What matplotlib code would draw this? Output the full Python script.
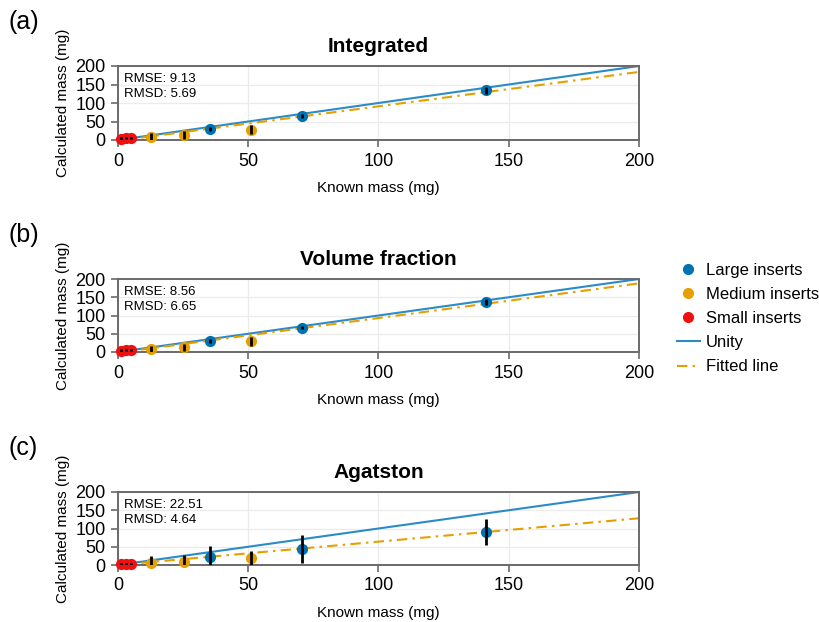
import matplotlib
matplotlib.use("Agg")
import matplotlib.pyplot as plt
import numpy as np
from matplotlib.lines import Line2D

plt.rcParams['font.family'] = ['Liberation Sans', 'DejaVu Sans']

# Known masses (mg)
known_large = [35.3, 70.7, 141.3]
known_medium = [12.7, 25.4, 50.9]
known_small = [1.0, 3.0, 5.0]

titles = ["Integrated", "Volume fraction", "Agatston"]
panel_labels = ["(a)", "(b)", "(c)"]

# Calculated masses per method
calc_large = [[30.0, 64.0, 134.0], [31.0, 66.7, 138.0], [23.0, 44.5, 91.0]]
calc_medium = [[9.0, 13.6, 28.0], [8.2, 12.8, 29.2], [5.5, 8.3, 18.5]]
calc_small = [[4.0, 5.0, 6.0], [4.0, 5.0, 6.0], [3.0, 3.0, 3.0]]

err_large = [[5.0, 5.0, 10.0], [5.0, 5.0, 8.0], [28.0, 38.0, 36.0]]
err_medium = [[10.0, 12.0, 13.0], [8.0, 10.0, 12.0], [19.0, 20.0, 20.0]]
err_small = [[3.0, 3.0, 3.0], [3.0, 3.0, 3.0], [3.0, 3.0, 3.0]]

fit_slope = [0.93, 0.95, 0.64]
fit_intercept = [-2.0, -2.0, 0.0]

rmse = ["9.13", "8.56", "22.51"]
rmsd = ["5.69", "6.65", "4.64"]

ticks = [0, 50, 100, 150, 200]

c_large = "#0072B2"
c_medium = "#E69F00"
c_small = "#EE1111"
c_unity = "#2b8bc9"

fig = plt.figure(figsize=(8.2, 6.22), dpi=100)
W, H = 820, 622
ax_left, ax_right = 118, 639
tops = [66, 279, 492]
bottoms = [140, 352, 565]

for i in range(3):
    ax = fig.add_axes([ax_left / W, 1 - bottoms[i] / H, (ax_right - ax_left) / W, (bottoms[i] - tops[i]) / H])
    ax.set_xlim(0, 200)
    ax.set_ylim(0, 200)
    ax.set_xticks(ticks)
    ax.set_yticks(ticks)
    ax.grid(True, color="#ebebeb", linewidth=0.9)
    ax.set_axisbelow(True)
    for s in ax.spines.values():
        s.set_color("#6a6a6a")
        s.set_linewidth(1.4)
    ax.tick_params(axis='both', direction='out', length=5, width=1.2, color="#6a6a6a",
                   labelsize=13, pad=4)
    ax.set_xlabel("Known mass (mg)", fontsize=11, labelpad=8)
    ax.set_ylabel("Calculated mass (mg)", fontsize=11, labelpad=4)
    ax.set_title(titles[i], fontsize=15, fontweight='bold', pad=10)

    xs = np.array([0, 200])
    ax.plot(xs, xs, color=c_unity, lw=1.5, zorder=2)
    ax.plot(xs, fit_slope[i] * xs + fit_intercept[i], color=c_medium, lw=1.5,
            linestyle=(0, (5, 2.5, 1.2, 2.5)), zorder=2)

    for kx, cy, ce, col in [(known_small, calc_small[i], err_small[i], c_small),
                            (known_medium, calc_medium[i], err_medium[i], c_medium),
                            (known_large, calc_large[i], err_large[i], c_large)]:
        ax.scatter(kx, cy, s=65, color=col, zorder=3, linewidths=0, clip_on=False)
        ax.errorbar(kx, cy, yerr=ce, fmt='none', ecolor='black', elinewidth=2.0,
                    capsize=0, zorder=4)

    ax.text(0.012, 0.9, f"RMSE: {rmse[i]}\nRMSD: {rmsd[i]}", transform=ax.transAxes,
            fontsize=9.5, va='top', ha='left', linespacing=1.3)

    fig.text(8 / W, 1 - (tops[i] - 44) / H, panel_labels[i], fontsize=18, va='center', ha='left')

handles = [
    Line2D([], [], marker='o', linestyle='none', color=c_large, markersize=7),
    Line2D([], [], marker='o', linestyle='none', color=c_medium, markersize=7),
    Line2D([], [], marker='o', linestyle='none', color=c_small, markersize=7),
    Line2D([], [], color=c_unity, lw=1.5),
    Line2D([], [], color=c_medium, lw=1.5, linestyle=(0, (5, 2.5, 1.2, 2.5))),
]
labels = ["Large inserts", "Medium inserts", "Small inserts", "Unity", "Fitted line"]
fig.legend(handles, labels, loc='upper left', bbox_to_anchor=(670 / W, 1 - 256 / H),
           frameon=False, fontsize=12, handlelength=1.4, handletextpad=0.35,
           labelspacing=0.55, borderaxespad=0)

fig.savefig("out.png", dpi=100)
